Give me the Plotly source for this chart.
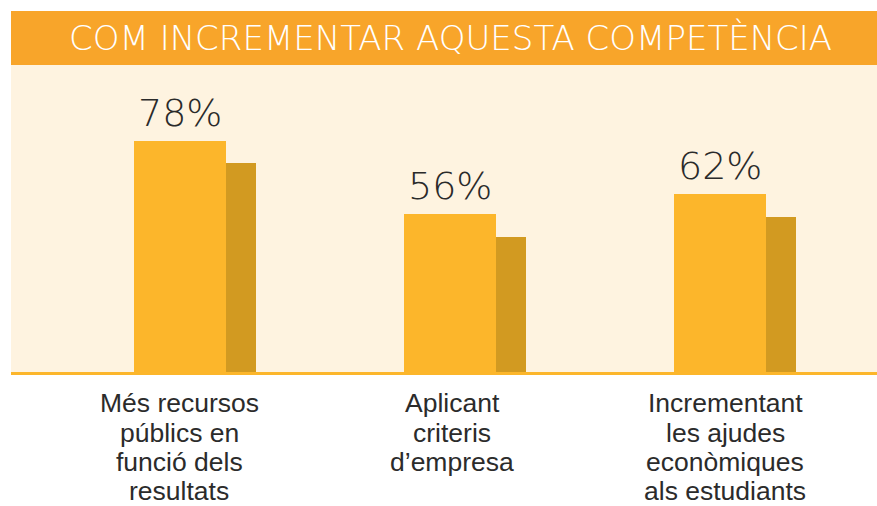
import plotly.graph_objects as go

categories = [
    "Més recursos<br>públics en<br>funció dels<br>resultats",
    "Aplicant<br>criteris<br>d’empresa",
    "Incrementant<br>les ajudes<br>econòmiques<br>als estudiants",
]
values = [78, 56, 62]
shadow_values = [71.4, 49.4, 55.4]
title_text = "COM INCREMENTAR AQUESTA COMPETÈNCIA"

W, H = 877, 506
ml, mr, mt, mb = 11, 0, 65, 134
plot_h = H - mt - mb
banner_h = 54

fig = go.Figure()
fig.add_trace(go.Bar(
    x=categories, y=shadow_values,
    width=0.111, offset=0.1704,
    marker=dict(color="#D29A21", line=dict(width=0)),
    hoverinfo="skip", showlegend=False,
))
fig.add_trace(go.Bar(
    x=categories, y=values,
    width=0.3407, offset=-0.1704,
    marker=dict(color="#FCB62B", line=dict(width=0)),
    hoverinfo="skip", showlegend=False,
))

annotations = [dict(
    text=title_text, xref="paper", yref="paper",
    x=0.5, y=1 + (banner_h / 2) / plot_h, xanchor="center", yanchor="middle",
    xshift=6, yshift=0,
    showarrow=False,
    font=dict(family="'DejaVu Sans', sans-serif", size=34, color="white", weight=200),
)]

# value labels above bars
for cat, v in zip(categories, values):
    annotations.append(dict(
        text=f"{v}%", x=cat, y=v, xref="x", yref="y",
        xanchor="center", yanchor="bottom", yshift=4,
        showarrow=False,
        font=dict(family="'DejaVu Sans', sans-serif", size=38, color="#2a2a2a", weight=200),
    ))

# category labels, one annotation per line
line_shifts = [-30.8, -60.8, -90.3, -119.3]
label_xshift = [-1, 2, 5]
for j, cat in enumerate(categories):
    for i, line in enumerate(cat.split("<br>")):
        annotations.append(dict(
            text=line, x=cat, y=0, xref="x", yref="paper",
            xanchor="center", yanchor="middle", borderpad=0,
            yshift=line_shifts[i], xshift=label_xshift[j],
            showarrow=False,
            font=dict(family="'Liberation Sans', Arial, sans-serif", size=26.5, color="#2b2b2b"),
        ))

fig.update_layout(
    width=W, height=H,
    margin=dict(l=ml, r=mr, t=mt, b=mb),
    paper_bgcolor="white",
    plot_bgcolor="#FEF3E0",
    barmode="overlay",
    bargap=0,
    xaxis=dict(
        range=[-0.626, 2.581],
        showgrid=False, zeroline=False,
        showline=True, linecolor="#FCB62B", linewidth=3,
        ticks="", showticklabels=False,
        fixedrange=True,
    ),
    yaxis=dict(
        range=[8.8, 8.8 + plot_h / 3.337],
        showgrid=False, zeroline=False, showticklabels=False, showline=False,
        fixedrange=True,
    ),
    shapes=[dict(
        type="rect", xref="paper", yref="paper",
        x0=0, x1=1, y0=1, y1=1 + banner_h / plot_h,
        fillcolor="#F8A52A", line=dict(width=0), layer="above",
    )],
    annotations=annotations,
)

fig.write_html("out.html", config={"displayModeBar": False},
               post_script="document.body.style.margin='0';")
